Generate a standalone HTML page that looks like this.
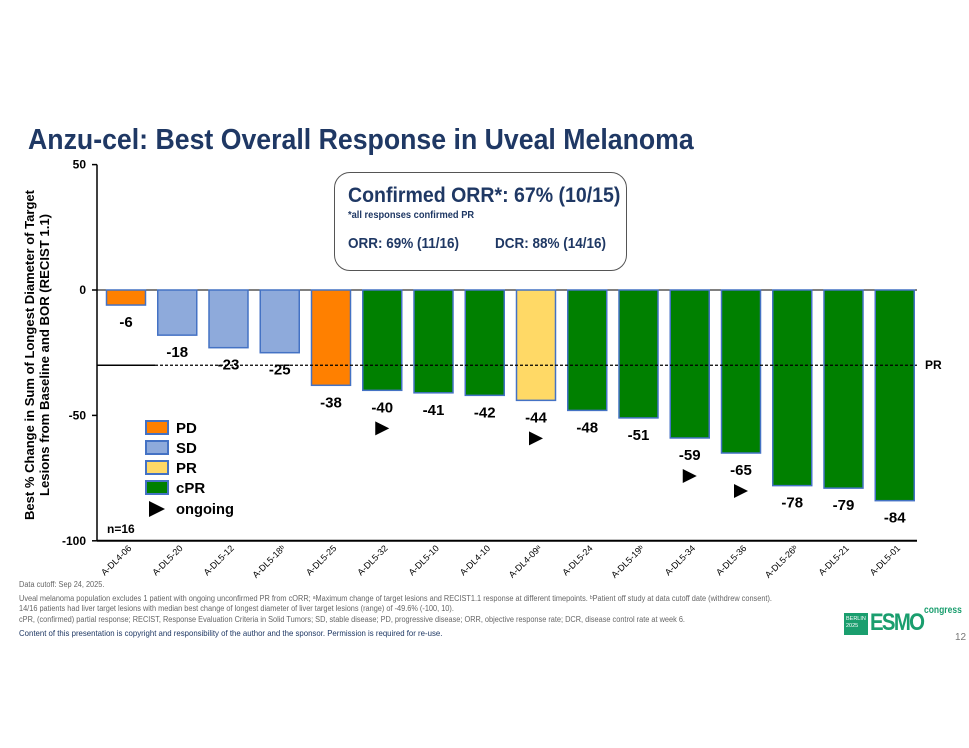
<!DOCTYPE html>
<html><head><meta charset="utf-8"><style>
body{margin:0;width:969px;height:748px;background:#fff;overflow:hidden;font-family:"Liberation Sans Narrow","Liberation Sans",sans-serif;}
#wrap{position:relative;width:969px;height:748px;}
.abs{position:absolute;white-space:nowrap;}
.sx{transform-origin:0 0;}
</style></head><body>
<div id="wrap">
<div class="abs sx" style="left:28px;top:124px;font-size:29px;font-weight:bold;color:#1f3864;transform:scaleX(0.92)">Anzu-cel: Best Overall Response in Uveal Melanoma</div>
<svg id="chart" width="969" height="600" style="position:absolute;left:0;top:0" font-family="Liberation Sans Narrow, Liberation Sans, sans-serif"></svg>
<div class="abs" style="left:334px;top:172px;width:291px;height:97px;border:1.5px solid #555;border-radius:16px;color:#1f3864;background:#fff">
 <div class="abs sx" style="left:13px;top:11px;font-size:21px;font-weight:bold;transform:scaleX(0.93)">Confirmed ORR*: 67% (10/15)</div>
 <div class="abs sx" style="left:13px;top:37px;font-size:10px;font-weight:bold;transform:scaleX(0.93)">*all responses confirmed PR</div>
 <div class="abs sx" style="left:13px;top:62px;font-size:15px;font-weight:bold;transform:scaleX(0.9)">ORR: 69% (11/16)</div>
 <div class="abs sx" style="left:160px;top:62px;font-size:15px;font-weight:bold;transform:scaleX(0.9)">DCR: 88% (14/16)</div>
</div>
<div class="sx" style="position:absolute;left:19px;top:580px;font-size:8px;color:#666;line-height:10.5px;white-space:nowrap;transform:scaleX(0.92)">
<div>Data cutoff: Sep 24, 2025.</div>
<div style="margin-top:3px">Uveal melanoma population excludes 1 patient with ongoing unconfirmed PR from cORR; ᵃMaximum change of target lesions and RECIST1.1 response at different timepoints. ᵇPatient off study at data cutoff date (withdrew consent).</div>
<div>14/16 patients had liver target lesions with median best change of longest diameter of liver target lesions (range) of -49.6% (-100, 10).</div>
<div>cPR, (confirmed) partial response; RECIST, Response Evaluation Criteria in Solid Tumors; SD, stable disease; PD, progressive disease; ORR, objective response rate; DCR, disease control rate at week 6.</div>
<div style="margin-top:3px;color:#1f3864;font-size:8.5px">Content of this presentation is copyright and responsibility of the author and the sponsor. Permission is required for re-use.</div>
</div>
<div class="abs" style="left:844px;top:605px;width:110px;height:32px;">
 <div class="abs" style="left:0;top:8px;width:24px;height:22px;background:#1a9e6e;color:#fff;font-size:5.5px;line-height:7px;padding:3px 2px;box-sizing:border-box">BERLIN<br>2025</div>
 <div class="abs sx" style="left:26px;top:5px;font-size:24px;font-weight:bold;color:#1a9e6e;letter-spacing:-2px;line-height:26px;transform:scaleX(0.85)">ESMO</div>
 <div class="abs sx" style="left:80px;top:0px;font-size:10px;font-weight:bold;color:#1a9e6e;transform:scaleX(0.85)">congress</div>
</div>
<div class="abs" style="left:955px;top:632px;font-size:10px;color:#777">12</div>
</div>
<script>
const categories=["A-DL4-06","A-DL5-20","A-DL5-12","A-DL5-18ᵇ","A-DL5-25","A-DL5-32","A-DL5-10","A-DL4-10","A-DL4-09ᵃ","A-DL5-24","A-DL5-19ᵇ","A-DL5-34","A-DL5-36","A-DL5-26ᵇ","A-DL5-21","A-DL5-01"];
const values=[-6,-18,-23,-25,-38,-40,-41,-42,-44,-48,-51,-59,-65,-78,-79,-84];
const responses=["PD","SD","SD","SD","PD","cPR","cPR","cPR","PR","cPR","cPR","cPR","cPR","cPR","cPR","cPR"];
const ongoing=[0,0,0,0,0,1,0,0,1,0,0,1,1,0,0,0];
const yTicks=[50,0,-50,-100];
const prThreshold=-30;
const colors={PD:"#ff8000",SD:"#8eaadb",PR:"#ffd966",cPR:"#008000"};
const NS="http://www.w3.org/2000/svg";
const svg=document.getElementById('chart');
const y=v=>290-v*2.508;
const x=i=>126+i*51.25;
const bw=39;
function mk(t,a,txt){const e=document.createElementNS(NS,t);for(const k in a)e.setAttribute(k,a[k]);if(txt!=null)e.textContent=txt;svg.appendChild(e);return e;}
let ax=mk('line',{x1:97,y1:y(50),x2:97,y2:y(-100),stroke:'#000','stroke-width':1.5});

let xa=mk('line',{x1:97,y1:y(-100),x2:917,y2:y(-100),stroke:'#000','stroke-width':2});

let zl=mk('line',{x1:97,y1:y(0),x2:917,y2:y(0),stroke:'#000','stroke-width':1});

yTicks.forEach(t=>{
 let l=mk('line',{x1:92,y1:y(t),x2:97,y2:y(t),stroke:'#000','stroke-width':1.5});
 
 let tx=mk('text',{x:86,y:y(t)+4,'text-anchor':'end','font-size':12,'font-weight':'bold'},t);
 
});
let yt=mk('text',{transform:'translate(34,355) rotate(-90)','text-anchor':'middle','font-size':13,'font-weight':'bold'});

const t1=document.createElementNS(NS,'tspan');t1.setAttribute('x',0);t1.setAttribute('y',0);t1.setAttribute('textLength',330);t1.setAttribute('lengthAdjust','spacingAndGlyphs');t1.textContent='Best % Change in Sum of Longest Diameter of Target';yt.appendChild(t1);
const t2=document.createElementNS(NS,'tspan');t2.setAttribute('x',0);t2.setAttribute('y',15);t2.setAttribute('textLength',282);t2.setAttribute('lengthAdjust','spacingAndGlyphs');t2.textContent='Lesions from Baseline and BOR (RECIST 1.1)';yt.appendChild(t2);
values.forEach((v,i)=>{
 let r=mk('rect',{x:x(i)-bw/2,y:y(0),width:bw,height:y(v)-y(0),fill:colors[responses[i]],stroke:'#4472c4','stroke-width':1.5});
 
 let lb=mk('text',{x:x(i),y:y(v)+22,'text-anchor':'middle','font-size':15,'font-weight':'bold'},v);
 
 if(ongoing[i]){let ty=y(v)+38;let p=mk('polygon',{points:`${x(i)-7},${ty-7} ${x(i)+7},${ty} ${x(i)-7},${ty+7}`,fill:'#000'});
  }
 let cl=mk('text',{transform:`translate(${x(i)+6},${y(-100)+8}) rotate(-45)`,'text-anchor':'end','font-size':9},categories[i]);
 
});
let p1=mk('line',{x1:97,y1:y(prThreshold),x2:155,y2:y(prThreshold),stroke:'#000','stroke-width':1.5});

let p2=mk('line',{x1:155,y1:y(prThreshold),x2:917,y2:y(prThreshold),stroke:'#000','stroke-width':1.2,'stroke-dasharray':'3,2'});

let pl=mk('text',{x:925,y:y(prThreshold)+4,'font-size':12,'font-weight':'bold'},'PR');

const legKeys=["PD","SD","PR","cPR"];
legKeys.forEach((k,j)=>{
 let r=mk('rect',{x:146,y:421+j*20,width:22,height:13,fill:colors[k],stroke:'#4472c4','stroke-width':2});
 
 let t=mk('text',{x:176,y:433+j*20,'font-size':15,'font-weight':'bold'},k);
 
});
let lt=mk('polygon',{points:'149,501 165,509 149,517',fill:'#000'});

let lo=mk('text',{x:176,y:514,'font-size':15,'font-weight':'bold','textLength':58,'lengthAdjust':'spacingAndGlyphs'},'ongoing');

let n=mk('text',{x:107,y:533,'font-size':12,'font-weight':'bold'},'n=16');

</script>
</body></html>
